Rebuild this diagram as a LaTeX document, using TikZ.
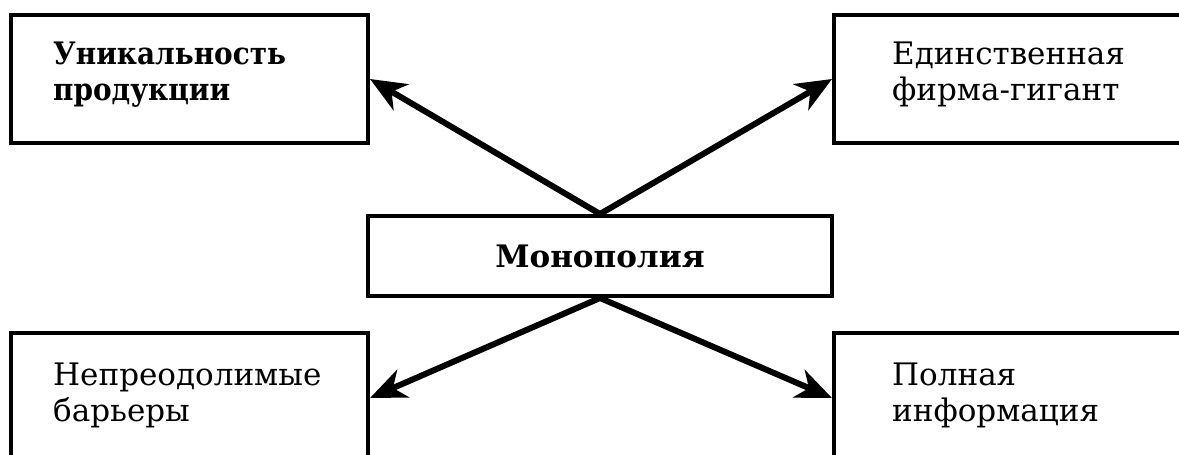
\documentclass[tikz,border=0pt]{standalone}
\usepackage{fontspec}
\setmainfont{DejaVu Serif}
\newfontfamily\tlfont{DejaVu Serif}[FakeStretch=0.9]
\usetikzlibrary{arrows.meta}
\begin{document}
\begin{tikzpicture}[x=1pt,y=-1pt,
  box/.style={draw=black, line width=4pt, rectangle, fill=white,
    minimum width=357pt, inner sep=0pt},
  tallbox/.style={box, minimum height=128pt},
  lowbox/.style={box, minimum height=130pt},
  txt/.style={anchor=north west, inner sep=0pt, align=left,
    font=\fontsize{31}{36}\selectfont},
  centerbox/.style={draw=black, line width=4pt, rectangle, fill=white,
    minimum width=464pt, minimum height=80pt, inner sep=0pt,
    font=\fontsize{31}{36}\selectfont\bfseries},
  arr/.style={line width=6pt, -{Stealth[length=36pt,width=30pt,inset=11pt]}}
]
\useasboundingbox (0,0) rectangle (1179,455);
\clip (0,0) rectangle (1179,455);
\fill[white] (0,0) rectangle (1179,455);

\node[tallbox] (tl) at (189.5,79) {};
\node[tallbox] (tr) at (1012.5,79) {};
\node[lowbox] (bl) at (189.5,398) {};
\node[lowbox] (br) at (1012.5,398) {};
\node[centerbox] (c) at (600,256) {Монополия};

\node[txt, font=\fontsize{31}{36}\selectfont\tlfont\bfseries] (tlt) at (53,42) {Уникальность\\продукции};
\node[txt] (trt) at (892,42) {Единственная\\фирма-гигант};
\node[txt] (blt) at (53,363) {Непреодолимые\\барьеры};
\node[txt] (brt) at (892,363) {Полная\\информация};

\draw[arr] (c.north) -- (tl.east);
\draw[arr] (c.north) -- (tr.west);
\draw[arr] (c.south) -- (bl.east);
\draw[arr] (c.south) -- (br.west);
\end{tikzpicture}
\end{document}
